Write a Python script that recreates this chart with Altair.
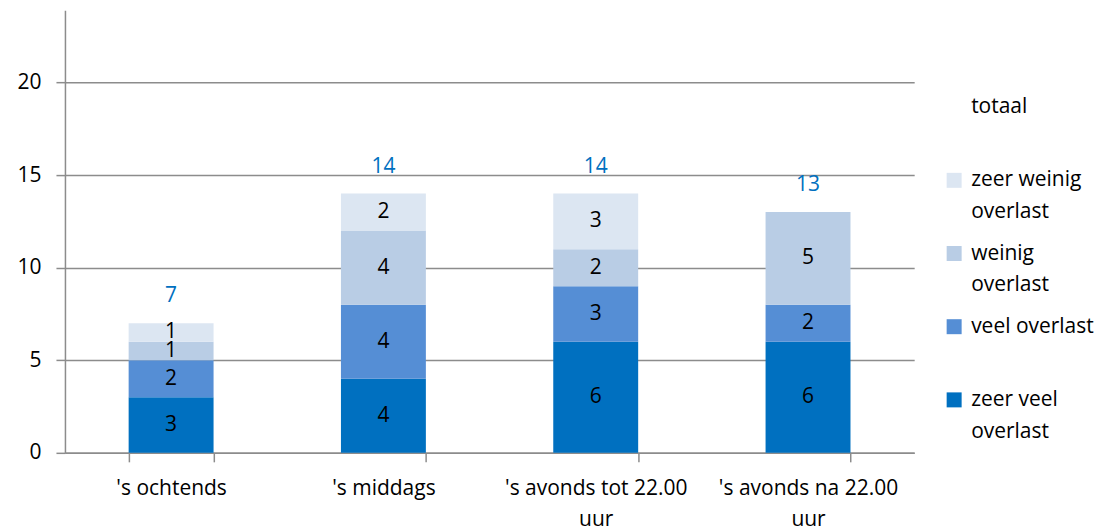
import altair as alt
import pandas as pd

categories = ["'s ochtends", "'s middags", "'s avonds tot 22.00 uur", "'s avonds na 22.00 uur"]
series = ["zeer veel overlast", "veel overlast", "weinig overlast", "zeer weinig overlast"]
zeer_veel = [3, 4, 6, 6]
veel = [2, 4, 3, 2]
weinig = [1, 4, 2, 5]
zeer_weinig = [1, 2, 3, 0]
totaal = [7, 14, 14, 13]
colors = ["#0070C0", "#558ED5", "#B9CDE5", "#DCE6F2"]
legend_items = ["totaal", "zeer weinig|overlast", "weinig|overlast", "veel overlast", "zeer veel|overlast"]
legend_series = ["totaal", "zeer weinig overlast", "weinig overlast", "veel overlast", "zeer veel overlast"]
y_ticks = [0, 5, 10, 15, 20]

FONT = "Open Sans"
GRAY = "#8c8c8c"
FS = 21

rows = []
for i, c in enumerate(categories):
    base = 0
    for j, (s, vals) in enumerate(zip(series, [zeer_veel, veel, weinig, zeer_weinig])):
        v = vals[i]
        rows.append(dict(cat=c, series=s, order=j, value=v, start=base, end=base + v, mid=base + v / 2))
        base += v
df = pd.DataFrame(rows)
tot_df = pd.DataFrame({"cat": categories, "total": totaal})
leg_df = pd.DataFrame({"item": legend_items, "series": legend_series})

color_scale = alt.Scale(domain=series + ["totaal"], range=colors + ["transparent"])

x_enc = alt.X(
    "cat:N", sort=categories,
    scale=alt.Scale(paddingInner=0.6, paddingOuter=0.3),
    axis=alt.Axis(
        title=None, labelAngle=0, tickBand="extent", tickSize=9, tickColor=GRAY, tickWidth=1.5,
        domainColor=GRAY, domainWidth=1.5, labelFont=FONT, labelFontSize=FS, labelColor="#000000",
        labelLineHeight=31, labelBaseline="top", labelPadding=16, labelLimit=0, labelOverlap=False,
        labelExpr="indexof(datum.label, ' uur') > 0 ? [substring(datum.label, 0, indexof(datum.label, ' uur')), 'uur'] : datum.label",
    ),
)
y_scale = alt.Scale(domain=[0, 23.9], nice=False, zero=True)

bars = alt.Chart(df).mark_bar().encode(
    x=x_enc,
    y=alt.Y("start:Q", scale=y_scale, axis=alt.Axis(
        title=None, values=y_ticks, grid=True, gridColor=GRAY, gridWidth=1.5,
        tickSize=9, tickColor=GRAY, tickWidth=1.5, domainColor=GRAY, domainWidth=1.5,
        labelFont=FONT, labelFontSize=FS, labelColor="#000000", labelPadding=15)),
    y2="end:Q",
    color=alt.Color("series:N", scale=color_scale, legend=None),
)

seg_labels = alt.Chart(df).transform_filter("datum.value > 0").mark_text(
    font=FONT, fontSize=FS, color="#000000", baseline="middle"
).encode(x=alt.X("cat:N", sort=categories), y=alt.Y("mid:Q"), text="value:Q")

tot_labels = alt.Chart(tot_df).mark_text(
    font=FONT, fontSize=FS, color="#0070C0", baseline="middle", dy=-27
).encode(x=alt.X("cat:N", sort=categories), y=alt.Y("total:Q"), text="total:Q")

main = alt.layer(bars, seg_labels, tot_labels).properties(width=850, height=443)

leg_y = alt.Y("item:N", sort=legend_items, scale=alt.Scale(type="point", range=[97, 390], padding=0), axis=None)
leg_sq = alt.Chart(leg_df).mark_square(size=225, opacity=1).encode(
    x=alt.value(12), y=leg_y,
    color=alt.Color("series:N", scale=color_scale, legend=None),
)
leg_txt = alt.Chart(leg_df).transform_calculate(lines="split(datum.item, '|')").mark_text(
    font=FONT, fontSize=FS, color="#000000", align="left", baseline="middle", lineHeight=32
).encode(x=alt.value(29), y=leg_y, text="lines:N")
legend = alt.layer(leg_sq, leg_txt).properties(width=170, height=443)

chart = alt.hconcat(main, legend, spacing=28).properties(
    padding={"left": 8, "top": 2, "right": 0, "bottom": 0}
).configure_view(stroke=None)

chart.save("out.html", embed_options={"renderer": "svg", "actions": False})
